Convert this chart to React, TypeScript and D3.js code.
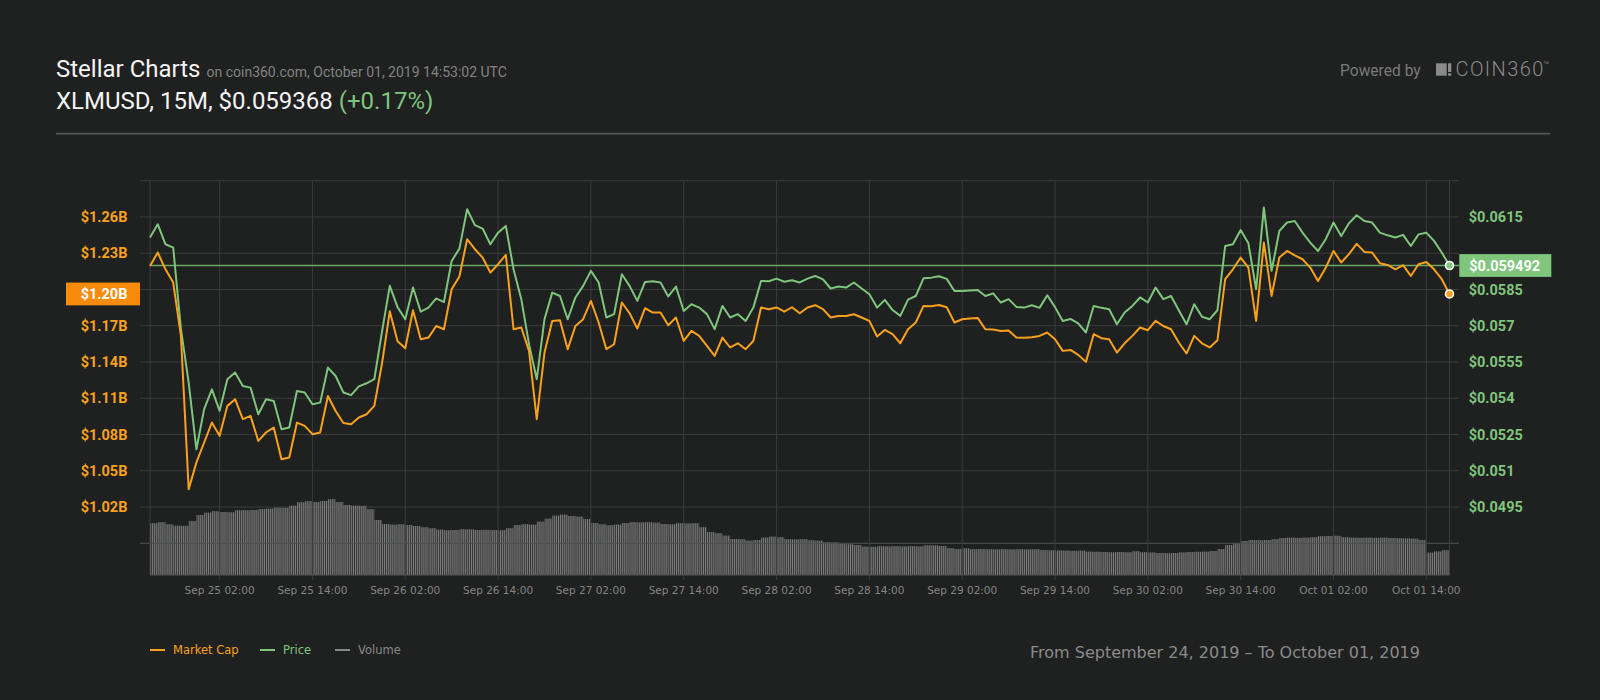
import React from "react";
import * as d3 from "d3";

// ---------- data ----------
const START_UTC = Date.UTC(2019, 8, 24, 17, 0); // first sample (chart-local time)
const HOUR = 3600 * 1000;

// XLM price (USD), hourly samples
const priceValues = [
  0.06065, 0.0612, 0.06037, 0.06023, 0.05686, 0.05465, 0.05189, 0.05355, 0.05437, 0.05348,
  0.05479, 0.05507, 0.05451, 0.05444, 0.05334, 0.05396, 0.05389, 0.05272, 0.05279, 0.0543,
  0.05424, 0.05375, 0.05382, 0.05527, 0.05492, 0.05424, 0.05413, 0.05449, 0.05462, 0.05479,
  0.05677, 0.05865, 0.05777, 0.05727, 0.05858, 0.05758, 0.05775, 0.05813, 0.05798, 0.05968,
  0.06019, 0.06182, 0.06116, 0.06102, 0.06037, 0.06085, 0.06113, 0.05934, 0.0581, 0.05624,
  0.05479, 0.05727, 0.05837, 0.05823, 0.05727, 0.05817, 0.05865, 0.05927, 0.05879, 0.05734,
  0.05748, 0.05913, 0.05865, 0.05803, 0.05881, 0.05884, 0.05879, 0.05821, 0.05862, 0.05761,
  0.05789, 0.05775, 0.05748, 0.05686, 0.05782, 0.05734, 0.05748, 0.0572, 0.05775, 0.05885,
  0.05884, 0.05895, 0.05882, 0.05888, 0.05879, 0.05895, 0.05906, 0.05892, 0.05854, 0.05862,
  0.05858, 0.05879, 0.05854, 0.0583, 0.05775, 0.05807, 0.05765, 0.05741, 0.05808, 0.05823,
  0.05896, 0.05899, 0.05905, 0.05894, 0.05844, 0.05844, 0.05846, 0.05848, 0.05823, 0.05834,
  0.05796, 0.0581, 0.05778, 0.05775, 0.05785, 0.05774, 0.05826, 0.05777, 0.0572, 0.05728,
  0.0571, 0.05672, 0.05782, 0.05774, 0.05768, 0.05706, 0.05755, 0.05782, 0.05817, 0.05796,
  0.05858, 0.0581, 0.05823, 0.05764, 0.05706, 0.05789, 0.05737, 0.05727, 0.05764, 0.0603,
  0.06037, 0.06096, 0.06041, 0.05851, 0.06189, 0.05927, 0.06092, 0.06127, 0.06133, 0.06085,
  0.06044, 0.06009, 0.06058, 0.06127, 0.06071, 0.06124, 0.06157, 0.06133, 0.06127, 0.06085,
  0.06074, 0.06065, 0.06076, 0.0603, 0.06078, 0.06085, 0.06051, 0.06003, 0.059492,
];

// Market cap (billion USD), hourly samples
const marketCapValues = [
  1.2195, 1.2306, 1.2167, 1.2057, 1.1616, 1.0348, 1.0569, 1.0734, 1.0899, 1.0789,
  1.1037, 1.1092, 1.0927, 1.0954, 1.0747, 1.0817, 1.0858, 1.0596, 1.061, 1.0899,
  1.0871, 1.0803, 1.0817, 1.1119, 1.0995, 1.0895, 1.0885, 1.0941, 1.0968, 1.1037,
  1.139, 1.182, 1.1572, 1.1514, 1.1828, 1.1588, 1.1602, 1.1698, 1.1671, 1.2002,
  1.2107, 1.2416, 1.2333, 1.2264, 1.214, 1.2209, 1.2286, 1.1671, 1.1685, 1.1492,
  1.0927, 1.1478, 1.174, 1.1745, 1.1506, 1.1698, 1.1754, 1.1905, 1.1727, 1.1506,
  1.1547, 1.1892, 1.1803, 1.1677, 1.1845, 1.1809, 1.181, 1.1704, 1.1768, 1.1574,
  1.1657, 1.1616, 1.1533, 1.145, 1.1602, 1.152, 1.1555, 1.1506, 1.1574, 1.1851,
  1.1837, 1.1851, 1.1816, 1.1853, 1.1803, 1.1851, 1.187, 1.1837, 1.1768, 1.1781,
  1.178, 1.1795, 1.1768, 1.174, 1.1611, 1.1665, 1.163, 1.1555, 1.1671, 1.1727,
  1.1864, 1.1862, 1.1872, 1.1853, 1.1727, 1.1754, 1.176, 1.1765, 1.1671, 1.1668,
  1.1657, 1.166, 1.1602, 1.16, 1.1605, 1.1616, 1.1644, 1.1588, 1.1492, 1.15,
  1.1459, 1.1401, 1.163, 1.1597, 1.1588, 1.1478, 1.1555, 1.1616, 1.1685, 1.1663,
  1.174, 1.1698, 1.1671, 1.1561, 1.147, 1.1616, 1.1555, 1.152, 1.158, 1.2085,
  1.2167, 1.2264, 1.2181, 1.174, 1.2388, 1.1947, 1.2264, 1.2319, 1.2283, 1.225,
  1.2181, 1.2071, 1.218, 1.2319, 1.2223, 1.2292, 1.2377, 1.2311, 1.2306, 1.2217,
  1.2203, 1.2167, 1.2201, 1.2112, 1.2209, 1.2228, 1.2167, 1.2085, 1.1963,
];

// Volume (million USD), one value per hour
const volumeValues = [
  259, 264, 254, 247, 246, 270, 300, 312, 319, 315,
  314, 324, 324, 325, 330, 332, 337, 336, 347, 364,
  369, 365, 370, 379, 365, 350, 347, 346, 329, 275,
  255, 252, 254, 250, 245, 239, 234, 227, 224, 225,
  229, 228, 225, 226, 225, 224, 234, 250, 254, 252,
  267, 282, 297, 302, 295, 292, 280, 260, 254, 249,
  252, 260, 264, 263, 264, 262, 255, 254, 259, 258,
  259, 239, 215, 209, 197, 180, 179, 172, 175, 187,
  192, 189, 179, 178, 179, 174, 172, 164, 163, 155,
  154, 150, 142, 141, 144, 143, 144, 143, 144, 143,
  149, 148, 145, 134, 130, 134, 129, 130, 129, 128,
  129, 128, 129, 128, 129, 125, 124, 123, 122, 121,
  122, 117, 116, 115, 114, 115, 114, 119, 114, 113,
  110, 109, 110, 113, 115, 116, 117, 120, 130, 150,
  159, 170, 175, 174, 175, 179, 185, 187, 186, 187,
  189, 194, 195, 196, 189, 187, 186, 187, 186, 187,
  185, 184, 183, 182, 175, 112, 118, 124,
];

const xTickTimes = [
  "2019-09-25T02:00:00Z", "2019-09-25T14:00:00Z", "2019-09-26T02:00:00Z", "2019-09-26T14:00:00Z",
  "2019-09-27T02:00:00Z", "2019-09-27T14:00:00Z", "2019-09-28T02:00:00Z", "2019-09-28T14:00:00Z",
  "2019-09-29T02:00:00Z", "2019-09-29T14:00:00Z", "2019-09-30T02:00:00Z", "2019-09-30T14:00:00Z",
  "2019-10-01T02:00:00Z", "2019-10-01T14:00:00Z",
];
const capGridValues = [0.99, 1.02, 1.05, 1.08, 1.11, 1.14, 1.17, 1.2, 1.23, 1.26, 1.29];
const capTickValues = [1.02, 1.05, 1.08, 1.11, 1.14, 1.17, 1.2, 1.23, 1.26];
const priceTickValues = [0.0495, 0.051, 0.0525, 0.054, 0.0555, 0.057, 0.0585, 0.06, 0.0615];

const lastPrice = 0.059492;
const lastCap = 1.1963;

const legendLabels = ["Market Cap", "Price", "Volume"];

const titleText = "Stellar Charts";
const subtitleText = "on coin360.com, October 01, 2019 14:53:02 UTC";
const pairText = "XLMUSD, 15M, $0.059368 ";
const changeText = "(+0.17%)";
const rangeText = "From September 24, 2019 \u2013 To October 01, 2019";

// ---------- style ----------
const BG = "#1f2020";
const GRID = "#3b3c3c";
const ORANGE = "#f9a11c";
const ORANGE_BOX = "#f98b0c";
const GREEN = "#7fc57c";
const GRAY = "#8a8a8a";
const ROBOTO = "Roboto, 'Noto Sans', sans-serif";
const DEJAVU = "'DejaVu Sans', Verdana, sans-serif";

export default function App() {
  const times = priceValues.map((_, i) => new Date(START_UTC + i * HOUR));
  const endTime = new Date(START_UTC + 168 * HOUR);

  const x = d3.scaleUtc().domain([new Date(START_UTC), endTime]).range([150, 1449.5]);
  const capY = d3.scaleLinear().domain([0.99, 1.29]).range([543.3, 180.7]);
  const priceY = d3.scaleLinear().domain([0.048, 0.063]).range([543.3, 180.7]);
  const volY = d3.scaleLinear().domain([0, 400]).range([575, 495]);

  const x0 = x.range()[0];
  const x1 = x.range()[1];
  const yTop = capY(1.29);
  const volBase = volY(0);

  const priceLine = d3
    .line<number>()
    .x((_, i) => x(times[i]))
    .y((d) => priceY(d));
  const capLine = d3
    .line<number>()
    .x((_, i) => x(times[i]))
    .y((d) => capY(d));

  const fmtTick = d3.utcFormat("%b %d %H:%M");
  const ticks = xTickTimes.map((s) => new Date(s));

  const lastPriceY = priceY(lastPrice);
  const lastCapY = capY(lastCap);
  const stripe = (x1 - x0) / (168 * 4);

  const legendX = [150, 260, 335];
  const legendColors = [ORANGE, GREEN, GRAY];

  return (
    <svg
      width={1600}
      height={700}
      style={{ position: "fixed", left: 0, top: 0, display: "block", background: BG }}
    >
      <defs>
        <pattern id="volStripes" patternUnits="userSpaceOnUse" x={x0} y={0} width={stripe} height={10}>
          <rect x={0} y={0} width={stripe * 0.62} height={10} fill="#7c7c7c" />
        </pattern>
      </defs>
      <rect x={0} y={0} width={1600} height={700} fill={BG} />

      {/* header */}
      <text x={56} y={76.7} fontFamily={ROBOTO} fontSize={24} fill="#f4f4f4">
        {titleText}
        <tspan dx={6} fontSize={14} fill="#838383">
          {subtitleText}
        </tspan>
      </text>
      <text x={56} y={109.3} fontFamily={ROBOTO} fontSize={24} fill="#f4f4f4" style={{ whiteSpace: "pre" }}>
        {pairText}
        <tspan fill={GREEN}>{changeText}</tspan>
      </text>
      <text x={1340} y={76} fontFamily={ROBOTO} fontSize={15.6} fill="#7a7a7a">
        Powered by
      </text>
      <rect x={1436} y={63.3} width={10.7} height={12.4} fill="#8a8a8a" />
      <rect x={1448} y={63.3} width={3.3} height={8.7} fill="#8a8a8a" />
      <rect x={1448} y={73.3} width={3.3} height={2.4} fill="#8a8a8a" />
      <text x={1455.5} y={76} fontFamily={ROBOTO} fontWeight={300} fontSize={20} letterSpacing={1.4} fill="#8a8a8a">
        COIN360
        <tspan fontSize={9} dy={-8} dx={-1}>
          ™
        </tspan>
      </text>
      <line x1={56} x2={1550} y1={133.6} y2={133.6} stroke="#565757" strokeWidth={1.6} />

      {/* horizontal grid */}
      {capGridValues.map((v) => (
        <line key={"h" + v} x1={140} x2={1459} y1={capY(v)} y2={capY(v)} stroke={GRID} strokeWidth={1} />
      ))}

      {/* volume bars */}
      {volumeValues.map((v, i) => {
        const xa = x(new Date(START_UTC + i * HOUR));
        const xb = x(new Date(START_UTC + (i + 1) * HOUR));
        return (
          <rect key={"v" + i} x={xa} y={volY(v)} width={xb - xa} height={volBase - volY(v)} fill="url(#volStripes)" />
        );
      })}
      {/* grid line crossing volume */}
      <line x1={140} x2={1459} y1={capY(0.99)} y2={capY(0.99)} stroke="#4a4b4b" strokeWidth={1} />

      {/* vertical grid */}
      <line x1={x0} x2={x0} y1={yTop} y2={volBase} stroke={GRID} />
      <line x1={x1} x2={x1} y1={yTop} y2={volBase} stroke={GRID} />
      {ticks.map((t) => (
        <line key={"vt" + t.getTime()} x1={x(t)} x2={x(t)} y1={yTop} y2={volBase + 5} stroke={GRID} />
      ))}
      <line x1={x0} x2={x1} y1={volBase} y2={volBase} stroke="#505151" />

      {/* x labels */}
      {ticks.map((t) => (
        <text
          key={"xl" + t.getTime()}
          x={x(t)}
          y={594}
          textAnchor="middle"
          fontFamily={DEJAVU}
          fontSize={10.5}
          fill="#858585"
        >
          {fmtTick(t)}
        </text>
      ))}

      {/* left axis labels */}
      {capTickValues
        .filter((v) => Math.abs(capY(v) - lastCapY) > 16)
        .map((v) => (
          <text key={"cl" + v} x={80.7} y={capY(v)} dy="0.36em" fontFamily={ROBOTO} fontWeight={700} fontSize={14.5} fill={ORANGE}>
            {"$" + v.toFixed(2) + "B"}
          </text>
        ))}
      {/* right axis labels */}
      {priceTickValues
        .filter((v) => Math.abs(priceY(v) - lastPriceY) > 16)
        .map((v) => (
          <text key={"pl" + v} x={1468.7} y={priceY(v)} dy="0.36em" fontFamily={ROBOTO} fontWeight={700} fontSize={14.5} fill={GREEN}>
            {"$" + String(+v.toFixed(4))}
          </text>
        ))}

      {/* current price line */}
      <line x1={x0} x2={1459} y1={lastPriceY} y2={lastPriceY} stroke="#6aa867" strokeWidth={1.4} />

      {/* series */}
      <path d={priceLine(priceValues) || ""} fill="none" stroke={GREEN} strokeWidth={2} strokeLinejoin="round" />
      <path d={capLine(marketCapValues) || ""} fill="none" stroke={ORANGE} strokeWidth={2} strokeLinejoin="round" />

      <circle cx={x(times[times.length - 1])} cy={priceY(priceValues[priceValues.length - 1])} r={4} fill={GREEN} stroke="#fff" strokeWidth={1.6} />
      <circle cx={x(times[times.length - 1])} cy={capY(marketCapValues[marketCapValues.length - 1])} r={4} fill={ORANGE} stroke="#fff" strokeWidth={1.6} />

      {/* current value boxes */}
      <rect x={66} y={lastCapY - 11.4} width={74} height={22.8} fill={ORANGE_BOX} />
      <text x={80.7} y={lastCapY} dy="0.36em" fontFamily={ROBOTO} fontWeight={700} fontSize={14.5} fill="#fff">
        {"$" + lastCap.toFixed(2) + "B"}
      </text>
      <rect x={1459.3} y={lastPriceY - 11.4} width={92} height={22.8} fill={GREEN} />
      <text x={1469.3} y={lastPriceY} dy="0.36em" fontFamily={ROBOTO} fontWeight={700} fontSize={14.5} fill="#fff">
        {"$" + lastPrice}
      </text>

      {/* legend */}
      {legendLabels.map((label, i) => (
        <g key={label}>
          <line x1={legendX[i]} x2={legendX[i] + 15} y1={650} y2={650} stroke={legendColors[i]} strokeWidth={2} />
          <text x={legendX[i] + 23} y={654.2} fontFamily={DEJAVU} fontSize={11.5} fill={legendColors[i]}>
            {label}
          </text>
        </g>
      ))}

      <text x={1030} y={657.7} fontFamily={DEJAVU} fontSize={16} fill="#8b8b8b">
        {rangeText}
      </text>
    </svg>
  );
}
